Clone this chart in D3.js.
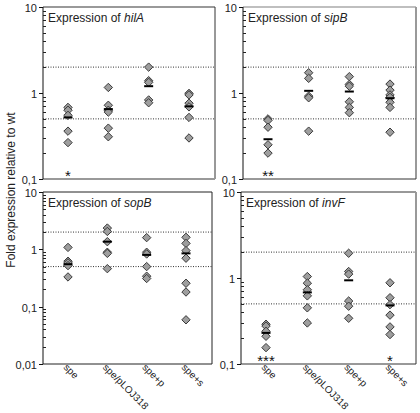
<!DOCTYPE html>
<html><head><meta charset="utf-8">
<script src="https://cdn.jsdelivr.net/npm/d3@7"></script>
<style>body{margin:0;background:#fff}svg{display:block;font-family:"Liberation Sans",Arial,sans-serif}</style>
</head><body><svg id="c" width="420" height="413"></svg>
<script>
const categories = ["spe", "spe/pLOJ318", "spe+p", "spe+s"];
const genes = ["hilA", "sipB", "sopB", "invF"];
const yTickValues = [0.01, 0.1, 1, 10];
const yTickLabels = ["0,01", "0,1", "1", "10"];
const refLines = [2, 0.5];

const hilAValues = [[0.68, 0.63, 0.55, 0.36, 0.265], [1.16, 0.72, 0.63, 0.6, 0.39, 0.31], [2.0, 1.39, 1.33, 0.83, 0.77], [0.99, 0.95, 0.76, 0.69, 0.52, 0.30]];
const hilAMeans = [0.52, 0.65, 1.2, 0.7];
const hilAStars = ["*", "", "", ""];

const sipBValues = [[0.50, 0.48, 0.40, 0.25, 0.20], [1.72, 1.48, 0.92, 0.88, 0.36], [1.55, 1.26, 1.2, 0.79, 0.68, 0.59], [1.27, 1.08, 0.95, 0.89, 0.78, 0.68, 0.35]];
const sipBMeans = [0.29, 1.06, 1.04, 0.87];
const sipBStars = ["**", "", "", ""];

const sopBValues = [[1.08, 0.62, 0.58, 0.52, 0.33], [2.35, 2.05, 1.36, 0.89, 0.85, 0.46], [1.6, 0.89, 0.83, 0.5, 0.34, 0.31], [1.62, 1.27, 0.95, 0.7, 0.256, 0.18, 0.059]];
const sopBMeans = [0.55, 1.36, 0.8, 0.85];
const sopBStars = ["", "", "", ""];

const invFValues = [[0.29, 0.276, 0.24, 0.21, 0.155], [1.04, 0.87, 0.73, 0.62, 0.45, 0.30], [1.94, 1.19, 1.11, 0.54, 0.47, 0.34], [0.88, 0.59, 0.49, 0.37, 0.27, 0.22]];
const invFMeans = [0.23, 0.68, 0.94, 0.48];
const invFStars = ["***", "", "", "*"];

const panels = [
  {gene: genes[0], values: hilAValues, means: hilAMeans, stars: hilAStars, box: [43, 215, 7, 179], dom: [0.1, 10], xl: false,
   edges: {top: ["#999", 2], right: ["#333", 1], bottom: ["#999", 2]}},
  {gene: genes[1], values: sipBValues, means: sipBMeans, stars: sipBStars, box: [243, 416, 7, 179], dom: [0.1, 10], xl: false,
   edges: {top: ["#aaa", 1.5], right: ["#999", 2], bottom: ["#333", 1]}},
  {gene: genes[2], values: sopBValues, means: sopBMeans, stars: sopBStars, box: [43, 212, 192, 364], dom: [0.01, 10], xl: true,
   edges: {top: ["#222", 1], right: ["#222", 1], bottom: ["#222", 1]}},
  {gene: genes[3], values: invFValues, means: invFMeans, stars: invFStars, box: [241, 416, 192, 364], dom: [0.1, 10], xl: true,
   edges: {top: ["#333", 1], right: ["#999", 2], bottom: ["#333", 1]}}
];

const svg = d3.select("#c");

panels.forEach(p => {
  const [L, R, T, B] = p.box;
  const g = svg.append("g");
  const y = d3.scaleLog().domain(p.dom).range([B, T]);
  const x = d3.scalePoint().domain(categories).range([L + 25, R - 26]);

  const e = p.edges;
  g.append("line").attr("x1", L).attr("x2", R).attr("y1", T).attr("y2", T).attr("stroke", e.top[0]).attr("stroke-width", e.top[1]);
  g.append("line").attr("x1", R).attr("x2", R).attr("y1", T).attr("y2", B).attr("stroke", e.right[0]).attr("stroke-width", e.right[1]);
  g.append("line").attr("x1", L).attr("x2", R).attr("y1", B).attr("y2", B).attr("stroke", e.bottom[0]).attr("stroke-width", e.bottom[1]);

  refLines.forEach(v => {
    g.append("line").attr("x1", L).attr("x2", R).attr("y1", y(v)).attr("y2", y(v))
      .attr("stroke", "#333").attr("stroke-width", 1).attr("stroke-dasharray", "1,1.5");
  });

  g.append("line").attr("x1", L).attr("x2", L).attr("y1", T).attr("y2", B).attr("stroke", "#111").attr("stroke-width", 1);

  const decades = yTickValues.filter(v => v >= p.dom[0] && v < p.dom[1]);
  decades.forEach(d => {
    for (let k = 2; k <= 9; k++) {
      const yy = Math.round(y(d * k)) + 0.5;
      g.append("line").attr("x1", L).attr("x2", L + 3).attr("y1", yy).attr("y2", yy).attr("stroke", "#222").attr("stroke-width", 1);
    }
  });
  yTickValues.forEach((v, i) => {
    if (v < p.dom[0] || v > p.dom[1]) return;
    const yy = Math.round(y(v)) + 0.5;
    g.append("line").attr("x1", L - 4).attr("x2", L).attr("y1", yy).attr("y2", yy).attr("stroke", "#111");
    g.append("text").attr("x", L - 6).attr("y", yy + 4).attr("text-anchor", "end")
      .attr("font-size", 11).attr("fill", "#222").text(yTickLabels[i]);
  });

  const t = g.append("text").attr("x", L + 5).attr("y", T + 15).attr("font-size", 12).attr("fill", "#222");
  t.append("tspan").text("Expression of ");
  t.append("tspan").attr("font-style", "italic").text(p.gene);

  categories.forEach((c, ci) => {
    const cx = x(c);
    p.values[ci].forEach(v => {
      const cy = y(v), r = 4.2;
      g.append("path").attr("d", `M${cx},${cy - r}L${cx + r},${cy}L${cx},${cy + r}L${cx - r},${cy}Z`)
        .attr("fill", "#9e9e9e").attr("stroke", "#3a3a3a").attr("stroke-width", 1);
    });
    g.append("line").attr("x1", cx - 4.5).attr("x2", cx + 4.5).attr("y1", y(p.means[ci])).attr("y2", y(p.means[ci]))
      .attr("stroke", "#000").attr("stroke-width", 2);
    if (p.stars[ci]) {
      g.append("text").attr("x", cx).attr("y", B + 2).attr("text-anchor", "middle")
        .attr("font-size", 15).attr("fill", "#111").text(p.stars[ci]);
    }
    if (p.xl) {
      g.append("text").attr("transform", `translate(${cx - 5},${B + 4}) rotate(45)`)
        .attr("font-size", 10).attr("fill", "#222").text(c);
    }
  });
});

svg.append("text").attr("transform", "translate(15,190) rotate(-90)").attr("text-anchor", "middle")
  .attr("font-size", 12).attr("fill", "#222").text("Fold expression relative to wt");
</script>
</body></html>
